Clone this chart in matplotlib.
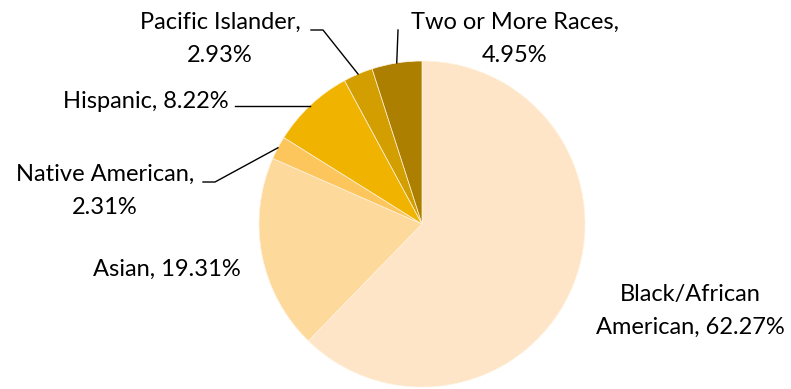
import numpy as np
import matplotlib.pyplot as plt

# доли по расам, по часовой стрелке от 12 часов
groups = ['Black/African American', 'Asian', 'Native American', 'Hispanic',
          'Pacific Islander', 'Two or More Races']
shares = [62.27, 19.31, 2.31, 8.22, 2.93, 4.95]
colors = ['#FEE5C7', '#FED99C', '#FDC65C', '#F0B400', '#D29E00', '#AD7F00']

# тексты подписей и где они стоят (пиксели, y сверху)
label_text = ['Black/African\nAmerican, 62.27%', 'Asian, 19.31%',
              'Native American,\n2.31%', 'Hispanic, 8.22%',
              'Pacific Islander,\n2.93%', 'Two or More Races,\n4.95%']
label_pos = [(690, 311), (167, 269), (105, 191), (146, 101), (220, 39), (515, 39)]
# начало выноски у текста (None - без выноски), и длина горизонтального хвостика
leader_start = [None, None, (203, 182), (235, 106), (311, 30), (398, 30)]
leader_hook = [0, 0, 12, 0, 12, 0]

W, H = 791, 389
cx, cy, R = 422, 224, 163

fig = plt.figure(figsize=(W / 100, H / 100), dpi=100)
ax = fig.add_axes([0, 0, 1, 1])

wedges, _ = ax.pie(shares, colors=colors, startangle=90, counterclock=False,
                   center=(cx, H - cy), radius=R,
                   wedgeprops=dict(linewidth=0.5, edgecolor='#fff3e0'))

# pie сбрасывает пределы, поэтому ставим их после
ax.set_xlim(0, W)
ax.set_ylim(0, H)
ax.set_aspect('equal')
ax.axis('off')

for i, w in enumerate(wedges):
    tx, ty = label_pos[i]
    ax.text(tx, H - ty, label_text[i], ha='center', va='center',
            fontsize=17, family='Lato', color='black', linespacing=1.68)
    if leader_start[i] is None:
        continue
    # точка на краю сектора, по середине дуги
    ang = np.deg2rad((w.theta1 + w.theta2) / 2)
    ex = cx + R * np.cos(ang)
    ey = (H - cy) + R * np.sin(ang)
    sx, sy = leader_start[i]
    xs = [sx]
    ys = [H - sy]
    if leader_hook[i]:
        xs.append(sx + leader_hook[i])
        ys.append(H - sy)
    elif i == 3:
        ey = H - sy
    xs.append(ex)
    ys.append(ey)
    ax.plot(xs, ys, color='black', linewidth=1)

fig.savefig('out.png', dpi=100)
